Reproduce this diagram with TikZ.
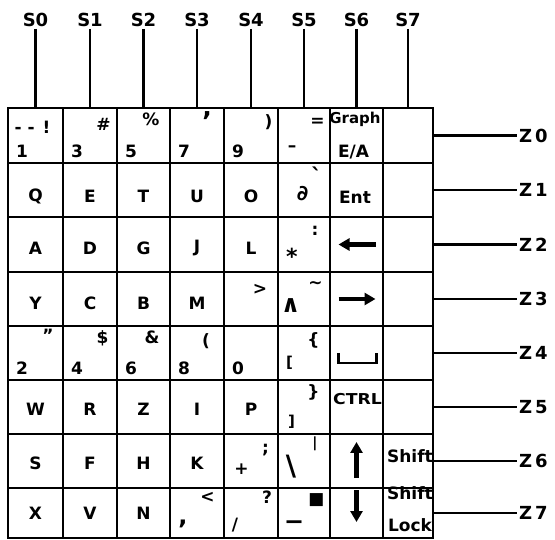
\documentclass[tikz,border=0pt]{standalone}
\usepackage{fontspec}
\setmainfont{DejaVu Sans}
\usepackage{graphicx}
\usetikzlibrary{arrows.meta,positioning}

\begin{document}
\begin{tikzpicture}[x=1pt,y=-1pt,
      key/.style={draw,line width=2.6pt,inner sep=0pt,outer sep=0pt},
      ltr/.style={font=\fontsize{17}{20}\selectfont\bfseries,inner sep=0pt},
      sml/.style={font=\fontsize{15}{17}\selectfont\bfseries,inner sep=0pt},
      bl/.style={ltr,anchor=base west,xshift=8pt,yshift=5pt},
      lab/.style={font=\fontsize{18}{21}\selectfont\bfseries,inner sep=2pt},
      wire/.style={line width=2.5pt},
      arr/.style={line width=4.5pt,-{Triangle[length=11pt,width=12pt]}},
      spc/.style={line width=2.8pt}]
      \useasboundingbox (0,0) rectangle (555,540);
      \foreach \r/\ya/\yb in {0/108/163,1/163/217,2/217/272,3/272/326,4/326/380,5/380/434,6/434/488,7/488/538}
        \foreach \c/\xa/\xb in {0/8/63,1/63/117,2/117/170,3/170/224,4/224/278,5/278/330,6/330/383,7/383/433}
          \node[key,minimum width=\xb pt-\xa pt,minimum height=\yb pt-\ya pt] (k\r\c) at ({(\xa+\xb)/2},{(\ya+\yb)/2}) {};
      \foreach \c in {0,...,7} {
        \node[lab,above=79pt of k0\c] (s\c) {S\c};
        \draw[wire] (s\c)--(k0\c);
      }
      \foreach \r in {0,...,7} {
        \node[lab,right=84pt of k\r7] (z\r) {Z\hspace{3pt}\r};
        \draw[wire] (k\r7)--(z\r);
      }
      \node[ltr] (g00) at ([shift={(-3pt,8pt)}]k00) {-\hspace{6pt}-\hspace{8pt}!};
      \node[ltr] (g01) at ([shift={(13.5pt,11.5pt)}]k01) {\#};
      \node[ltr] (g02) at ([shift={(7.5pt,16.5pt)}]k02) {\%};
      \node[ltr,font=\fontsize{26}{28}\selectfont\bfseries] (g03) at ([shift={(10pt,14.5pt)}]k03) {’};
      \node[ltr] (g04) at ([shift={(17.5pt,13pt)}]k04) {)};
      \node[ltr] (g05) at ([shift={(13.5pt,13pt)}]k05) {=};
      \node[ltr] (h05) at ([shift={(-12pt,-13.5pt)}]k05) {–};
      \node[sml] (g06) at ([shift={(-1.5pt,16.5pt)}]k06) {Graph};
      \node[ltr] (h06) at ([shift={(-3pt,-16.5pt)}]k06) {E/A};
      \foreach \c/\t in {0/1,1/3,2/5,3/7,4/9}
        \node[bl] (d0\c) at (k0\c.south west) {\t};
      \foreach \c/\t in {0/Q,1/E,2/T,3/U,4/O}
        \node[ltr] (m1\c) at ([yshift=-6pt]k1\c) {\t};
      \node[ltr,font=\fontsize{21}{24}\selectfont\bfseries] (g15) at ([shift={(-1.5pt,-3.5pt)}]k15) {∂};
      \node[ltr,font=\fontsize{22}{24}\selectfont\bfseries] (h15) at ([shift={(12.5pt,14pt)}]k15) {\textasciigrave};
      \node[ltr] (g16) at ([shift={(-1.5pt,-7.5pt)}]k16) {Ent};
      \foreach \c/\t in {0/A,1/D,2/G,3/J,4/L}
        \node[ltr] (m2\c) at ([yshift=-4pt]k2\c) {\t};
      \node[ltr,font=\fontsize{22}{24}\selectfont\bfseries] (g25) at ([shift={(-12pt,-12pt)}]k25) {*};
      \node[ltr] (h25) at ([shift={(11pt,13.5pt)}]k25) {:};
      \draw[arr] ([xshift=19pt]k26.center)--([xshift=-18pt]k26.center);
      \foreach \c/\t in {0/Y,1/C,2/B,3/M}
        \node[ltr] (m3\c) at ([yshift=-4pt]k3\c) {\t};
      \node[ltr] (g34) at ([shift={(9pt,10pt)}]k34) {>};
      \node[ltr,font=\fontsize{24}{26}\selectfont\bfseries] (g35) at ([shift={(-13.5pt,-6.5pt)}]k35) {∧};
      \node[ltr] (h35) at ([shift={(11.5pt,14.5pt)}]k35) {\textasciitilde};
      \draw[arr] ([xshift=-18pt]k36.center)--([xshift=19pt]k36.center);
      \node[ltr] (g40) at ([shift={(12.5pt,17.5pt)}]k40) {"};
      \foreach \c/\t in {0/2,1/4,2/6,3/8,4/0}
        \node[bl] (d4\c) at (k4\c.south west) {\t};
      \node[ltr] (g41) at ([shift={(12.5pt,15pt)}]k41) {\$};
      \node[ltr] (g42) at ([shift={(8.5pt,15.5pt)}]k42) {\&};
      \node[ltr] (g43) at ([shift={(9pt,12pt)}]k43) {(};
      \node[ltr] (g45) at ([shift={(9.5pt,12.5pt)}]k45) {\{};
      \node[ltr,font=\fontsize{15}{17}\selectfont\bfseries] (h45) at ([shift={(-14.5pt,-10pt)}]k45) {[};
      \draw[spc] ([xshift=-18pt]k46.center)|-([shift={(20pt,-10pt)}]k46.center)--([xshift=20pt]k46.center);
      \foreach \c/\t in {0/W,1/R,2/Z,3/I,4/P}
        \node[ltr] (m5\c) at ([yshift=-2pt]k5\c) {\t};
      \node[ltr] (g55) at ([shift={(9.5pt,15pt)}]k55) {\}};
      \node[ltr,font=\fontsize{15}{17}\selectfont\bfseries] (h55) at ([shift={(-12.5pt,-15pt)}]k55) {]};
      \node[sml] (g56) at ([shift={(1pt,7.5pt)}]k56) {\scalebox{1.15}[1]{CTRL}};
      \foreach \c/\t in {0/S,1/F,2/H,3/K}
        \node[ltr] (m6\c) at ([yshift=-2pt]k6\c) {\t};
      \node[ltr] (g64) at ([shift={(-9.5pt,-8pt)}]k64) {+};
      \node[ltr] (h64) at ([shift={(14.5pt,11pt)}]k64) {;};
      \node[ltr,font=\fontsize{28}{30}\selectfont\bfseries] (g65) at ([shift={(-13pt,-5.5pt)}]k65) {\textbackslash};
      \node[ltr,font=\fontsize{14}{16}\selectfont\bfseries] (h65) at ([shift={(11pt,17pt)}]k65) {|};
      \draw[arr] ([yshift=-17pt]k66.center)--([yshift=19pt]k66.center);
      \node[ltr] (g67) at ([shift={(2pt,4.5pt)}]k67) {Shift};
      \foreach \c/\t in {0/X,1/V,2/N}
        \node[ltr] (m7\c) at (k7\c) {\t};
      \node[ltr,font=\fontsize{24}{26}\selectfont\bfseries] (g73) at ([shift={(-14pt,-10.5pt)}]k73) {,};
      \node[ltr] (h73) at ([shift={(10.5pt,16pt)}]k73) {<};
      \node[ltr] (g74) at ([shift={(-16pt,-12pt)}]k74) {/};
      \node[ltr] (h74) at ([shift={(16pt,16pt)}]k74) {?};
      \node[ltr,font=\fontsize{30}{32}\selectfont\bfseries] (g75) at ([shift={(-10pt,-7pt)}]k75) {\_};
      \node[ltr] (h75) at ([shift={(12.5pt,13pt)}]k75) {■};
      \draw[arr] ([yshift=23pt]k76.center)--([yshift=-9pt]k76.center);
      \node[ltr] (g77) at ([shift={(2pt,19.5pt)}]k77) {Shift};
      \node[ltr] (h77) at ([shift={(2pt,-12pt)}]k77) {Lock};
    \end{tikzpicture}
\end{document}
